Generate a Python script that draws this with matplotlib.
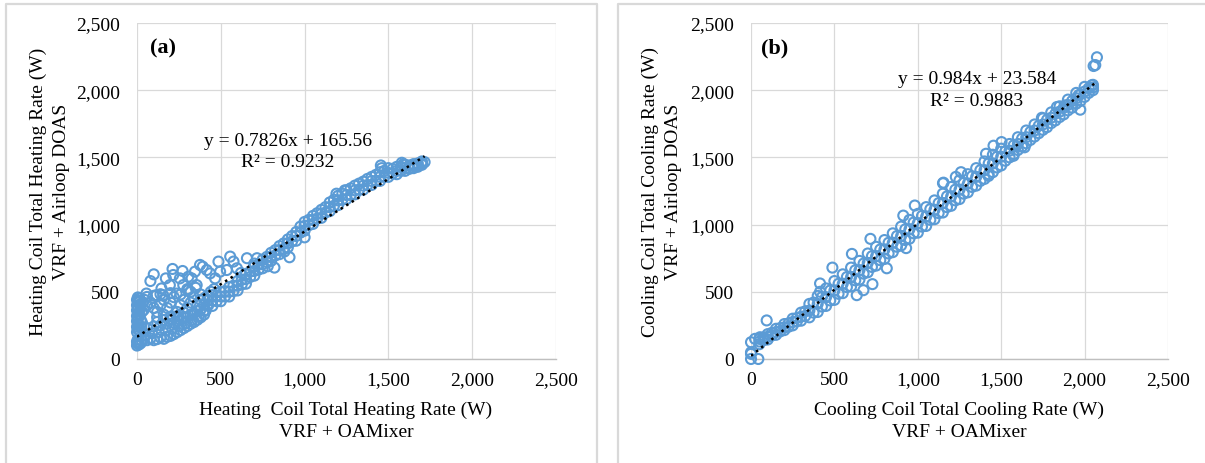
import matplotlib
matplotlib.use("Agg")
import matplotlib.pyplot as plt
from matplotlib.lines import Line2D

plt.rcParams['font.family'] = ['Liberation Serif', 'DejaVu Serif']

# ---------------- data ----------------
ticks = [0, 500, 1000, 1500, 2000, 2500]
tick_labels = ["0", "500", "1,000", "1,500", "2,000", "2,500"]

# Panel (a) heating: dense band (x, low, mid, high)
a_band_x = [400, 450, 500, 550, 600, 650, 700, 750, 800, 850, 900, 950, 1000, 1050, 1100,
            1150, 1200, 1250, 1300, 1350, 1400, 1450, 1500, 1550, 1600, 1650, 1700]
a_band_lo = [360, 395, 430, 465, 510, 560, 620, 675, 730, 780, 830, 880, 955, 1005, 1050,
             1100, 1145, 1190, 1225, 1260, 1295, 1325, 1355, 1375, 1400, 1420, 1445]
a_band_mid = [405, 435, 465, 500, 545, 595, 655, 705, 760, 810, 860, 915, 990, 1035, 1080,
              1130, 1180, 1220, 1255, 1290, 1325, 1355, 1385, 1400, 1420, 1435, 1455]
a_band_hi = [450, 475, 500, 535, 580, 630, 690, 740, 790, 840, 890, 945, 1020, 1065, 1110,
             1165, 1215, 1255, 1290, 1320, 1355, 1390, 1420, 1430, 1445, 1450, 1470]
a_band2_x = [425, 475, 525, 575, 625, 675, 725, 775, 825, 875, 925, 975, 1025, 1075, 1125,
             1175, 1225, 1275, 1325, 1375, 1425, 1475, 1525, 1575, 1625, 1675]
a_band2_lo = [400, 430, 465, 505, 555, 610, 665, 720, 770, 820, 875, 940, 995, 1045, 1090,
              1140, 1185, 1220, 1260, 1295, 1325, 1355, 1380, 1400, 1415, 1430]
a_band2_hi = [440, 470, 505, 545, 590, 650, 705, 760, 810, 860, 915, 985, 1035, 1085, 1130,
              1185, 1230, 1270, 1305, 1340, 1370, 1400, 1415, 1430, 1440, 1455]
# Panel (a) scattered points (x, y)
a_pts = [
    (0, 100), (3, 115), (8, 125), (0, 130), (12, 108), (22, 118), (5, 145), (30, 135),
    (0, 200), (4, 220), (0, 240), (8, 262), (0, 282), (5, 300), (0, 320), (10, 340),
    (0, 362), (6, 382), (0, 400), (8, 420), (0, 440), (5, 458), (15, 450), (12, 430),
    (18, 402), (20, 372), (14, 322), (22, 292), (10, 252), (16, 212), (25, 232), (30, 352),
    (35, 420), (45, 440),
    (40, 150), (60, 140), (80, 152), (100, 140), (120, 148), (140, 160), (160, 150),
    (180, 165), (200, 172), (220, 185), (240, 200), (260, 215), (280, 230), (300, 245),
    (320, 262), (340, 275), (360, 292), (380, 310), (400, 330),
    (50, 180), (90, 192), (130, 200), (170, 212), (210, 225), (250, 245), (290, 265),
    (330, 290), (370, 320), (410, 360),
    (60, 230), (100, 242), (140, 250), (180, 262), (220, 270), (260, 290), (300, 310),
    (340, 340), (380, 370), (420, 400),
    (30, 270), (120, 275), (160, 290), (200, 295), (240, 320), (280, 310), (320, 330),
    (360, 355),
    (40, 365), (60, 400), (80, 420), (100, 380), (120, 350), (140, 400), (160, 440),
    (180, 380), (200, 420), (220, 460), (240, 350), (260, 400), (280, 440), (300, 380),
    (320, 420), (340, 460), (360, 400), (380, 440), (120, 310), (160, 330), (200, 315),
    (240, 300), (280, 345), (60, 462), (100, 470), (140, 482), (200, 490), (260, 480),
    (320, 500), (380, 480), (300, 520), (350, 530), (420, 470), (440, 500), (460, 520),
    (100, 630), (80, 580), (172, 600), (212, 670), (216, 625), (272, 655), (256, 600),
    (306, 612), (376, 700), (392, 687), (436, 637), (486, 725), (556, 762), (576, 725),
    (656, 750), (716, 750), (496, 650), (416, 662), (346, 650), (326, 600), (276, 550),
    (196, 550), (146, 525), (56, 487), (116, 475), (156, 475), (236, 487), (306, 512),
    (356, 550), (466, 600), (536, 662), (596, 675), (620, 640), (700, 710),
    (910, 757), (1000, 905), (880, 800), (820, 680), (1190, 1230), (1240, 1255),
    (1460, 1420), (1455, 1440), (1580, 1460), (1590, 1450), (1650, 1440), (1716, 1465),
    (1676, 1440), (780, 690),
]
a_slope, a_intercept, a_r2 = 0.7826, 165.56, 0.9232

# Panel (b) cooling: dense band
b_band_x = [50, 100, 150, 200, 250, 300, 350, 400, 450, 500, 550, 600, 650, 700, 750, 800,
            850, 900, 950, 1000, 1050, 1100, 1150, 1200, 1250, 1300, 1350, 1400, 1450, 1500,
            1550, 1600, 1650, 1700, 1750, 1800, 1850, 1900, 1950, 2000, 2050]
b_band_lo = [110, 145, 180, 215, 250, 285, 310, 350, 395, 440, 490, 540, 590, 645, 695, 745,
             795, 845, 895, 940, 990, 1040, 1090, 1140, 1190, 1240, 1290, 1340, 1390, 1440,
             1500, 1555, 1605, 1655, 1705, 1755, 1800, 1850, 1900, 1950, 2000]
b_band_mid = [130, 165, 200, 235, 275, 315, 360, 410, 460, 510, 560, 610, 660, 715, 765, 815,
              865, 915, 965, 1010, 1060, 1110, 1160, 1210, 1260, 1305, 1355, 1405, 1455, 1505,
              1550, 1600, 1650, 1700, 1745, 1795, 1840, 1890, 1940, 1990, 2020]
b_band_hi = [150, 185, 225, 260, 300, 345, 410, 470, 525, 580, 630, 680, 730, 785, 835, 885,
             935, 985, 1035, 1080, 1130, 1180, 1230, 1280, 1330, 1375, 1420, 1470, 1520, 1565,
             1600, 1650, 1700, 1745, 1790, 1835, 1880, 1930, 1980, 2025, 2040]
b_band2_x = [75, 125, 175, 225, 275, 325, 375, 425, 475, 525, 575, 625, 675, 725, 775, 825,
             875, 925, 975, 1025, 1075, 1125, 1175, 1225, 1275, 1325, 1375, 1425, 1475, 1525,
             1575, 1625, 1675, 1725, 1775, 1825, 1875, 1925, 1975, 2025]
b_band2_lo = [140, 175, 205, 240, 280, 320, 345, 390, 435, 485, 535, 585, 635, 685, 735, 785,
              835, 885, 935, 985, 1035, 1085, 1130, 1180, 1230, 1280, 1325, 1375, 1425, 1475,
              1525, 1580, 1630, 1680, 1725, 1775, 1820, 1870, 1920, 1980]
b_band2_hi = [160, 195, 230, 265, 305, 355, 420, 460, 510, 560, 610, 660, 710, 765, 815, 865,
              915, 965, 1015, 1065, 1115, 1160, 1210, 1260, 1310, 1360, 1405, 1455, 1505, 1545,
              1590, 1640, 1690, 1735, 1780, 1825, 1870, 1920, 1970, 2015]
b_pts = [
    (0, 50), (0, 0), (44, 0), (0, 38), (0, 125), (24, 150), (54, 162), (94, 287),
    (414, 562), (414, 500), (488, 680), (605, 782), (634, 475), (674, 512), (728, 557),
    (716, 894), (814, 675), (930, 825), (913, 1067), (982, 1142), (1151, 1308),
    (1154, 1312), (1228, 1355), (1259, 1390), (1409, 1527), (1502, 1614), (1454, 1587),
    (1424, 1362), (1574, 1512), (1640, 1575), (1744, 1795), (1834, 1875), (1974, 1855),
    (2044, 2037), (2064, 2187), (2074, 2245), (2054, 2180), (1964, 1962), (1884, 1887),
]
b_slope, b_intercept, b_r2 = 0.984, 23.584, 0.9883

# ---------------- drawing ----------------
W, H = 1205, 464
fig = plt.figure(figsize=(W / 100, H / 100), dpi=100)
BLUE = '#5B9BD5'
GRID = '#d9d9d9'


def px_rect(l, r, t, b):
    return [l / W, 1 - b / H, (r - l) / W, (b - t) / H]


def ftext(x, y, s, **kw):
    fig.text(x / W, 1 - y / H, s, **kw)


# panel borders
fig.add_artist(Line2D([6 / W, 6 / W, 597 / W, 597 / W], [0, 1 - 5 / H, 1 - 5 / H, 0],
                      transform=fig.transFigure, color=GRID, lw=1.6))
fig.add_artist(Line2D([618 / W, 618 / W, 1.01], [0, 1 - 5 / H, 1 - 5 / H],
                      transform=fig.transFigure, color=GRID, lw=1.6))

axa = fig.add_axes(px_rect(137, 556, 24, 360))
axb = fig.add_axes(px_rect(751, 1168, 24, 360))


def style(ax):
    ax.set_xlim(0, 2500)
    ax.set_ylim(0, 2500)
    ax.set_xticks(ticks)
    ax.set_yticks(ticks)
    ax.set_xticklabels(tick_labels)
    ax.set_yticklabels(tick_labels)
    ax.grid(True, color=GRID, lw=0.9)
    ax.set_axisbelow(True)
    for s in ['top', 'right', 'left']:
        ax.spines[s].set_visible(False)
    ax.spines['bottom'].set_color('#bfbfbf')
    ax.spines['bottom'].set_linewidth(1.0)
    ax.tick_params(axis='both', length=0, labelsize=14)
    ax.tick_params(axis='y', pad=12)
    ax.tick_params(axis='x', pad=9)
    ax.patch.set_alpha(0)


def draw(ax, bx, blo, bmid, bhi, b2x, b2lo, b2hi, pts, slope, intercept):
    xs, ys = [], []
    for x, l, m, h in zip(bx, blo, bmid, bhi):
        xs += [x, x, x]
        ys += [l, m, h]
    for x, l, h in zip(b2x, b2lo, b2hi):
        xs += [x, x]
        ys += [l, h]
    for x, y in pts:
        xs.append(x)
        ys.append(y)
    ax.scatter(xs, ys, s=52, facecolors='none', edgecolors=BLUE, linewidths=1.5,
               clip_on=False, zorder=3)
    x0, x1 = min(xs), max(xs)
    ax.plot([x0, x1], [slope * x0 + intercept, slope * x1 + intercept],
            color='black', lw=1.8, ls=(0, (1, 1.6)), zorder=4)


style(axa)
style(axb)
draw(axa, a_band_x, a_band_lo, a_band_mid, a_band_hi, a_band2_x, a_band2_lo, a_band2_hi,
     a_pts, a_slope, a_intercept)
draw(axb, b_band_x, b_band_lo, b_band_mid, b_band_hi, b_band2_x, b_band2_lo, b_band2_hi,
     b_pts, b_slope, b_intercept)

# equations
ftext(288, 141, f"y = {a_slope}x + {a_intercept}", ha='center', va='center', fontsize=14)
ftext(288, 163, f"R² = {a_r2}", ha='center', va='center', fontsize=14)
ftext(977, 79, f"y = {b_slope}x + {b_intercept}", ha='center', va='center', fontsize=14)
ftext(977, 102, f"R² = {b_r2}", ha='center', va='center', fontsize=14)

# panel letters
ftext(163, 48, "(a)", ha='center', va='center', fontsize=16, fontweight='bold')
ftext(775, 48, "(b)", ha='center', va='center', fontsize=16, fontweight='bold')

# axis titles
ftext(346, 410, "Heating  Coil Total Heating Rate (W)", ha='center', va='center', fontsize=14)
ftext(346, 433, "VRF + OAMixer", ha='center', va='center', fontsize=14)
ftext(959, 410, "Cooling Coil Total Cooling Rate (W)", ha='center', va='center', fontsize=14)
ftext(959, 433, "VRF + OAMixer", ha='center', va='center', fontsize=14)

ftext(38, 192, "Heating Coil Total Heating Rate (W)", ha='center', va='center',
      rotation=90, fontsize=14)
ftext(61, 192, "VRF + Airloop DOAS", ha='center', va='center', rotation=90, fontsize=14)
ftext(650, 192, "Cooling Coil Total Cooling Rate (W)", ha='center', va='center',
      rotation=90, fontsize=14)
ftext(673, 192, "VRF + Airloop DOAS", ha='center', va='center', rotation=90, fontsize=14)

fig.savefig("out.png", dpi=100)
